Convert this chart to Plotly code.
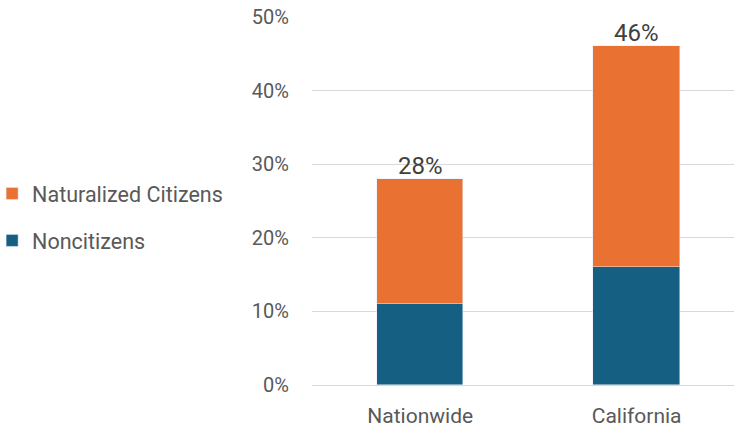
import plotly.graph_objects as go

categories = ["Nationwide", "California"]
noncitizens = [11, 16]
naturalized = [17, 30]
totals = [28, 46]
tick_vals = [0, 10, 20, 30, 40, 50]
tick_text = ["0%", "10%", "20%", "30%", "40%", "50%"]

FONT = "Roboto"
GRAY = "#595959"

fig = go.Figure()
fig.add_trace(go.Bar(x=categories, y=noncitizens, name="Noncitizens",
                     marker_color="#156082", width=0.4, legendgroup="b",
                     legendrank=2))
fig.add_trace(go.Bar(x=categories, y=naturalized, name="Naturalized Citizens",
                     marker_color="#E97132", width=0.4, legendgroup="a",
                     legendrank=1))

for c, t in zip(categories, totals):
    fig.add_annotation(x=c, y=t, text=f"{t}%", showarrow=False, yanchor="bottom",
                       yshift=-3, font=dict(family=FONT, size=24, color="#404040"))

fig.update_layout(
    barmode="stack",
    width=734, height=429,
    margin=dict(l=312, r=0, t=17, b=44, autoexpand=False),
    paper_bgcolor="white", plot_bgcolor="white",
    font=dict(family=FONT, size=20, color=GRAY),
    showlegend=True,
    legend=dict(xref="paper", yref="paper", x=-0.758, y=0.4565,
                xanchor="left", yanchor="middle", traceorder="grouped",
                tracegroupgap=16, font=dict(family=FONT, size=21.5, color=GRAY),
                itemwidth=30),
    xaxis=dict(range=[-0.5, 1.45], showgrid=False, showline=False, ticks="",
               tickfont=dict(size=21, color=GRAY), ticklabelstandoff=16),
    yaxis=dict(range=[0, 50], tickvals=tick_vals, ticktext=tick_text,
               showgrid=True, gridcolor="#D9D9D9", gridwidth=1.3,
               zeroline=True, zerolinecolor="#D9D9D9", zerolinewidth=1.3,
               ticks="", ticklen=0, tickfont=dict(size=20, color=GRAY),
               ticklabelstandoff=22, ticklabeloverflow="allow"),
    bargap=0,
)
fig.write_html("out.html", config={"displayModeBar": False},
               post_script="document.body.style.margin='0';")
